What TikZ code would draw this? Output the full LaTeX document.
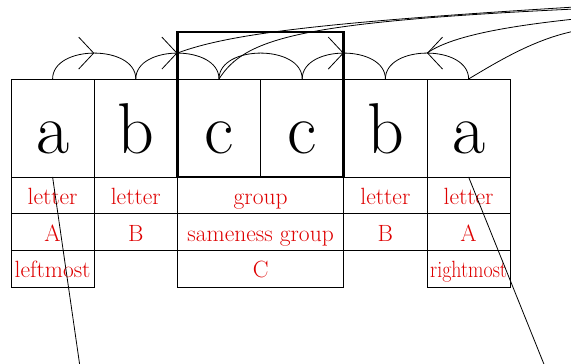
\documentclass[tikz,border=0pt]{standalone}
\usepackage{fontspec}
\usetikzlibrary{arrows.meta,positioning,decorations.markings}
\definecolor{labred}{RGB}{222,0,0}

\begin{document}
\begin{tikzpicture}[x=1pt,y=1pt,
  every node/.style={outer sep=0pt,inner sep=0pt},
  lettercell/.style={draw,line width=0.9pt,minimum width=83.2pt,minimum height=98pt,
    font=\fontsize{72}{80}\selectfont,text height=52pt,text depth=0pt},
  labcell/.style={draw,line width=0.9pt,minimum width=83.2pt,minimum height=36.7pt,
    font=\fontsize{23.5}{26}\selectfont,text=labred,text height=19pt,text depth=1pt},
  wide/.style={minimum width=166.4pt},
  bond/.style={out=90,in=90,looseness=1.065},
  link/.style={line width=0.8pt},
  grp/.style={line width=2.8pt},
  fwd/.style={postaction={decorate},decoration={markings,
    mark=at position 0.5 with {\arrow{Straight Barb[length=15pt,width=32pt]}}}},
  bwd/.style={postaction={decorate},decoration={markings,
    mark=at position 0.5 with {\arrowreversed{Straight Barb[length=15pt,width=32pt]}}}}]
\useasboundingbox (0,0) rectangle (571,364);
\clip (0,0) rectangle (571,364);
\node[lettercell] (a1) at (52.6,236) {a};
\node[lettercell,right=0pt of a1] (b1) {b};
\node[lettercell,right=0pt of b1] (c1) {c};
\node[lettercell,right=0pt of c1] (c2) {c};
\node[lettercell,right=0pt of c2] (b2) {b};
\node[lettercell,right=0pt of b2] (a2) {a};
\node[labcell,below=0pt of a1] (ty1) {letter};
\node[labcell,below=0pt of b1] (ty2) {letter};
\node[labcell,wide,below=0pt of c1.south east] (tyg) {group};
\node[labcell,below=0pt of b2] (ty5) {letter};
\node[labcell,below=0pt of a2] (ty6) {letter};
\node[labcell,below=0pt of ty1] (nm1) {A};
\node[labcell,below=0pt of ty2] (nm2) {B};
\node[labcell,wide,below=0pt of tyg] (nmg) {sameness group};
\node[labcell,below=0pt of ty5] (nm5) {B};
\node[labcell,below=0pt of ty6] (nm6) {A};
\node[labcell,below=0pt of nm1] (pos1) {leftmost};
\node[labcell,wide,below=0pt of nmg] (posg) {C};
\node[labcell,below=0pt of nm6] (pos6) {\scalebox{0.85}[1]{rightmost}};
\draw[link,fwd] (a1.north) to[bond] (b1.north);
\draw[link,fwd] (b1.north) to[bond] coordinate (bc) (c1.north);
\draw[link] (c1.north) to[bond] (c2.north);
\draw[link,fwd] (c2.north) to[bond] (b2.north);
\draw[link,bwd] (b2.north) to[bond] coordinate (ba) (a2.north);
\draw[grp] (c1.south west) rectangle ([yshift=47pt]c2.north east);
\coordinate (e1) at (575,357);
\coordinate (e2) at (575,355);
\coordinate (e3) at (575,345);
\coordinate (e4) at (575,333);
\coordinate (e5) at (80.3,-5);
\coordinate (e6) at (545.9,-5);
\draw[link] (bc) .. controls +(53,20) and +(-245,-15) .. (e1);
\draw[link] (c1.north) .. controls +(26,41) and +(-275,-13) .. (e2);
\draw[link] (ba) .. controls +(23,16) and +(-75,-8) .. (e3);
\draw[link] (a2.north) .. controls +(30,18) and +(-40,-8) .. (e4);
\draw[link] (ty1.north) -- (e5);
\draw[link] (ty6.north) -- (e6);
\end{tikzpicture}
\end{document}
